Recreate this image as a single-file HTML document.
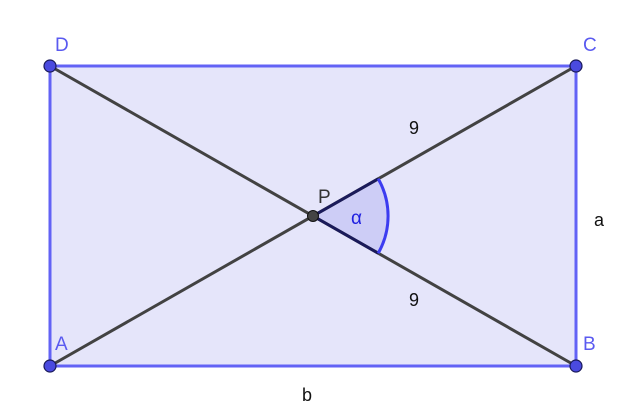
<!DOCTYPE html>
<html><head><style>body{margin:0;background:#fff}svg{display:block}</style></head><body>
<svg width="640" height="405" xmlns="http://www.w3.org/2000/svg" font-family="Liberation Sans, sans-serif">
<rect x="0" y="0" width="640" height="405" fill="#fff"/>
<polygon points="50,66 576,66 576,366 50,366" fill="#e5e5fa" stroke="#6262f5" stroke-width="3"/>
<path d="M313,216 L378.2,178.8 A75,75 0 0 1 378.2,253.2 Z" fill="#cdcdf6"/>
<line x1="50" y1="66" x2="576" y2="366" stroke="#424242" stroke-width="3"/>
<line x1="50" y1="366" x2="576" y2="66" stroke="#424242" stroke-width="3"/>
<line x1="313" y1="216" x2="378.2" y2="178.8" stroke="#1a1a5a" stroke-width="3"/>
<line x1="313" y1="216" x2="378.2" y2="253.2" stroke="#1a1a5a" stroke-width="3"/>
<path d="M378.2,178.8 A75,75 0 0 1 378.2,253.2" fill="none" stroke="#3c3cf0" stroke-width="3"/>
<g fill="#4a4adf" stroke="#1a1a5a" stroke-width="1.2">
<circle cx="50" cy="66" r="6"/><circle cx="576" cy="66" r="6"/><circle cx="576" cy="366" r="6"/><circle cx="50" cy="366" r="6"/>
</g>
<circle cx="313" cy="216" r="5.5" fill="#444" stroke="#111" stroke-width="1"/>
<g font-size="19" fill="#5a5af0">
<text x="55" y="51">D</text><text x="583" y="51">C</text><text x="583" y="350">B</text><text x="55" y="350">A</text>
</g>
<text x="318" y="203" font-size="19" fill="#333">P</text>
<text x="351" y="224" font-size="19" fill="#2020e0">α</text>
<g font-size="18" fill="#111">
<text x="409" y="134">9</text><text x="409" y="306">9</text><text x="594" y="226">a</text><text x="302" y="401">b</text>
</g>
</svg>
</body></html>
